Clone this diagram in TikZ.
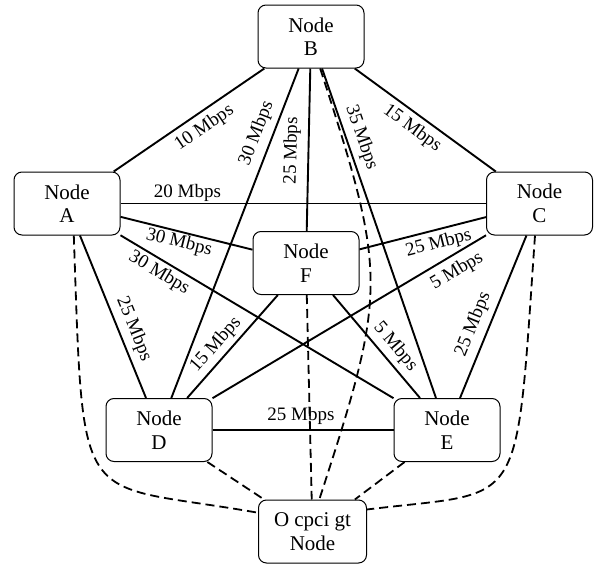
\documentclass[tikz,border=0pt]{standalone}
\usepackage{fontspec}
\setmainfont{Liberation Serif}
\begin{document}
\begin{tikzpicture}[x=1pt,y=1pt,
  nd/.style={draw, line width=1pt, rounded corners=8pt, minimum width=106pt, minimum height=63pt, fill=white, align=center, inner sep=0pt, font=\fontsize{21}{23.5}\selectfont},
  ln/.style={line width=1.9pt},
  dl/.style={line width=1.8pt, dash pattern=on 9pt off 5pt},
  lb/.style={sloped, inner sep=0pt, font=\fontsize{19}{21}\selectfont}]
\useasboundingbox (0,0) rectangle (598,-565);
% nodes
\node[nd] (A) at (67,-203.5) {Node\\A};
\node[nd] (B) at (311,-36.5) {Node\\B};
\node[nd] (C) at (539.5,-203.5) {Node\\C};
\node[nd] (F) at (306,-263) {Node\\F};
\node[nd] (D) at (159,-430) {Node\\D};
\node[nd] (E) at (447,-430) {Node\\E};
\node[nd, minimum width=108pt] (O) at (312.5,-531.5) {O cpci gt\\Node};
% solid links
\draw[ln] (A) -- node[lb, pos=0.545, below=5.7pt] {10 Mbps} (B);
\draw[ln] (B) -- node[lb, pos=0.468, below=5pt] {15 Mbps} (C);
\draw[ln] (A) -- node[lb, pos=0.183, above=1.5pt] {20 Mbps} (C);
\draw[ln] (A) -- node[lb, pos=0.464, below=1.5pt] {30 Mbps} (F);
\draw[ln] (A) -- node[lb, pos=0.165, below=3.2pt] {30 Mbps} (E);
\draw[ln] (A) -- node[lb, pos=0.611, above=5pt] {25 Mbps} (D);
\draw[ln] (B) -- node[lb, pos=0.214, above=6.2pt] {30 Mbps} (D);
\draw[ln] (B) -- node[lb, pos=0.507, above=7pt] {25 Mbps} (F);
\draw[ln] (B) -- node[lb, pos=0.224, above=5pt] {35 Mbps} (E);
\draw[ln] (F) -- node[lb, pos=0.599, below=4.3pt] {25 Mbps} (C);
\draw[ln] (D) -- node[lb, pos=0.864, below=6.5pt] {5 Mbps} (C);
\draw[ln] (E) -- node[lb, pos=0.417, above=6pt] {25 Mbps} (C);
\draw[ln] (D) -- node[lb, pos=0.489, above=4.5pt] {25 Mbps} (E);
\draw[ln] (D) -- node[lb, pos=0.429, above=4.1pt] {15 Mbps} (F);
\draw[ln] (F) -- node[lb, pos=0.592, above=4.6pt] {5 Mbps} (E);
% dashed links to the bottom node
\draw[dl] (D) -- (O);
\draw[dl] (E) -- (O);
\draw[dl] (F) -- (O);
\draw[dl] (A.-78) to[out=-88, in=170, out looseness=2.19, in looseness=1.43] (O.161);
\draw[dl] (C.-98) to[out=-94, in=7, out looseness=2.26, in looseness=1.28] (O.22);
\draw[dl] (B.-74) to[out=-72, in=72, looseness=1.3] (O.78);
\end{tikzpicture}
\end{document}
